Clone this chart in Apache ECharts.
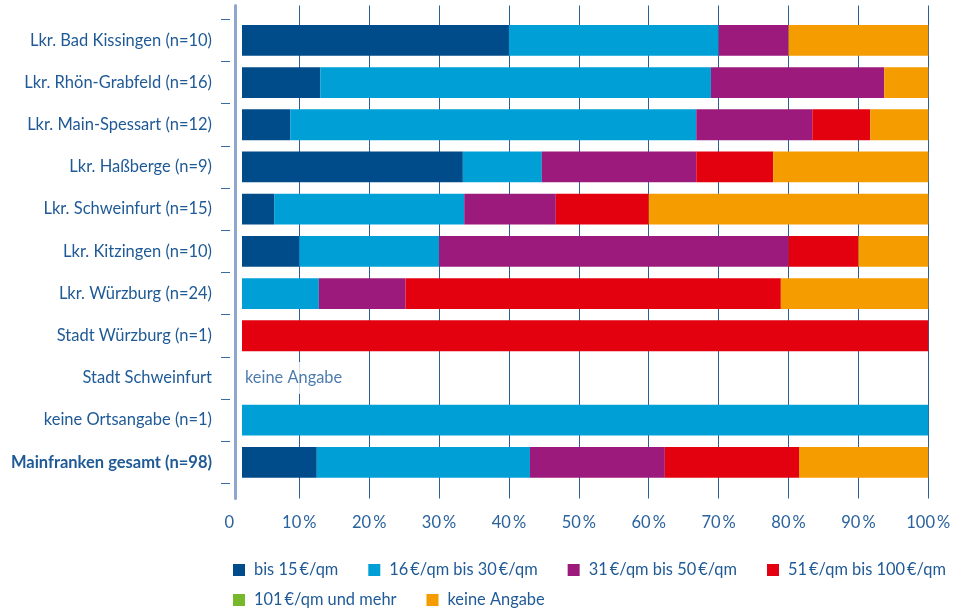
<!DOCTYPE html>
<html>
<head>
<meta charset="utf-8">
<script src="https://cdn.jsdelivr.net/npm/echarts@6/dist/echarts.min.js"></script>
<style>
  html, body { margin: 0; padding: 0; background: #ffffff; }
  #chart { width: 964px; height: 610px; }
</style>
</head>
<body>
<div id="chart"></div>
<script>
// Regions (top to bottom)
const categories = [
  'Lkr. Bad Kissingen (n=10)',
  'Lkr. Rhön-Grabfeld (n=16)',
  'Lkr. Main-Spessart (n=12)',
  'Lkr. Haßberge (n=9)',
  'Lkr. Schweinfurt (n=15)',
  'Lkr. Kitzingen (n=10)',
  'Lkr. Würzburg (n=24)',
  'Stadt Würzburg (n=1)',
  'Stadt Schweinfurt',
  'keine Ortsangabe (n=1)',
  'Mainfranken gesamt (n=98)'
];

// Share of answers per price class, in percent
const bis15      = [40, 13.0,  8.7, 33.4,  6.4, 10,    0,   0, null,   0, 12.5];
const von16bis30 = [30, 55.9, 58.1, 11.3, 27.2, 20, 12.8,   0, null, 100, 30.5];
const von31bis50 = [10, 24.8, 16.6, 22.1, 13.1, 50, 12.4,   0, null,   0, 19.3];
const von51bis100 = [0,    0,  8.3, 11.0, 13.3, 10, 53.7, 100, null,   0, 19.2];
const ab101      = [ 0,    0,    0,    0,    0,  0,    0,   0, null,   0,    0];
const keineAngabe = [20,  6.3,  8.3, 22.2, 40.0, 10, 21.1,   0, null,   0, 18.5];

const seriesNames = [
  'bis 15\u2009€/qm',
  '16\u2009€/qm bis 30\u2009€/qm',
  '31\u2009€/qm bis 50\u2009€/qm',
  '51\u2009€/qm bis 100\u2009€/qm',
  '101\u2009€/qm und mehr',
  'keine Angabe'
];
const seriesData = [bis15, von16bis30, von31bis50, von51bis100, ab101, keineAngabe];
const seriesColors = ['#004b8a', '#009fd6', '#9c1a7c', '#e3000f', '#76b82a', '#f49c00'];

// Region without any answers
const noDataCategory = 'Stadt Schweinfurt';
const noDataText = 'keine Angabe';

// The value axis of the bars starts slightly right of zero
const barAxisMin = 1.8;
const xTicks = { min: 0, max: 100, interval: 10 };

const TEXT = '#1f5a96';
const FONT = 'Lato, "Open Sans", sans-serif';

const chart = echarts.init(document.getElementById('chart'), null, { renderer: 'canvas' });

const barSeries = seriesNames.map((name, i) => ({
  name: name,
  type: 'bar',
  stack: 'total',
  xAxisIndex: 0,
  yAxisIndex: 0,
  barCategoryGap: '27%',
  itemStyle: { color: seriesColors[i] },
  emphasis: { disabled: true },
  data: seriesData[i]
}));

const legendBase = {
  left: 233,
  padding: 0,
  itemWidth: 12, itemHeight: 12, itemGap: 30,
  icon: 'rect',
  selectedMode: false,
  textStyle: { fontSize: 16.4, color: TEXT, fontFamily: FONT, padding: [0, 0, 0, 4] }
};

const option = {
  backgroundColor: '#ffffff',
  animation: false,
  textStyle: { fontFamily: FONT },
  grid: [
    { left: 242, right: 35.7, top: 19.25, height: 464.2 },
    { left: 229.4, right: 35.7, top: 5.5, height: 493 }
  ],
  xAxis: [
    { gridIndex: 0, type: 'value', min: barAxisMin, max: 100, show: false },
    {
      gridIndex: 1, type: 'value',
      min: xTicks.min, max: xTicks.max, interval: xTicks.interval,
      axisLine: { show: false },
      axisTick: { show: false },
      splitLine: { show: true, showMinLine: false, lineStyle: { color: '#2d5f96', width: 1 } },
      axisLabel: {
        margin: 16,
        color: '#2a629d',
        fontSize: 16.5,
        fontFamily: FONT,
        formatter: v => (v === 0 ? '0' : v + '\u2009%')
      }
    }
  ],
  yAxis: [
    {
      gridIndex: 0, type: 'category', data: categories, inverse: true,
      offset: 12,
      axisLine: { show: false },
      axisTick: { show: true, length: 9, lineStyle: { color: '#3a6aa0', width: 1 } },
      axisLabel: {
        margin: 18,
        fontSize: 16.5,
        fontFamily: FONT,
        color: TEXT,
        formatter: (v, idx) => (idx === categories.length - 1 ? '{b|' + v + '}' : v),
        rich: { b: { fontWeight: 'bold', fontSize: 16.5, fontFamily: FONT, color: TEXT } }
      },
      splitLine: { show: false }
    },
    {
      gridIndex: 1, type: 'value', min: 0, max: 1,
      offset: -5.6,
      axisLine: { show: true, lineStyle: { color: '#8fa7d0', width: 3 } },
      axisTick: { show: false },
      axisLabel: { show: false },
      splitLine: { show: false }
    }
  ],
  legend: [
    Object.assign({}, legendBase, { data: seriesNames.slice(0, 4), top: 562 }),
    Object.assign({}, legendBase, { data: seriesNames.slice(4), top: 592 })
  ],
  series: barSeries.concat([{
    type: 'scatter',
    xAxisIndex: 0,
    yAxisIndex: 0,
    clip: false,
    silent: true,
    symbolSize: 0,
    data: [[barAxisMin, noDataCategory]],
    label: {
      show: true,
      position: 'right',
      distance: 1,
      formatter: noDataText,
      fontSize: 16.4,
      fontFamily: FONT,
      color: TEXT,
      backgroundColor: '#ffffff',
      padding: [8, 4, 8, 2]
    }
  }])
};

chart.setOption(option);
</script>
</body>
</html>
